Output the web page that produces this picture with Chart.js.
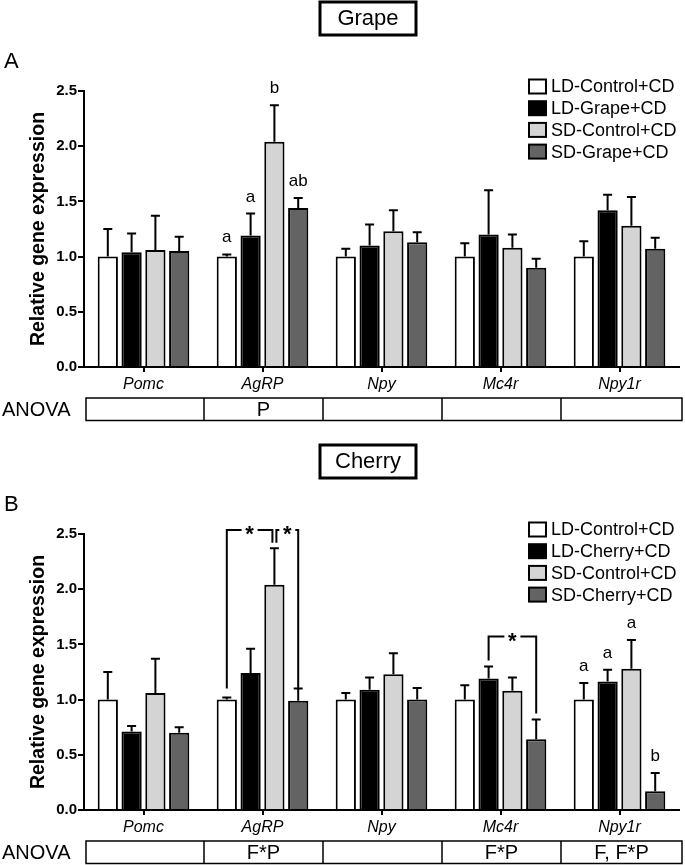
<!DOCTYPE html>
<html>
<head>
<meta charset="utf-8">
<script src="https://cdn.jsdelivr.net/npm/chart.js@4.4.1/dist/chart.umd.min.js"></script>
<style>
  html, body { margin: 0; padding: 0; background: #ffffff; }
  #wrap { position: relative; width: 685px; height: 865px; overflow: hidden; }
  .panel { position: absolute; left: 0; width: 685px; }
  #panelA { top: 0; height: 443px; }
  #panelB { top: 443px; height: 422px; }
</style>
</head>
<body>
<div id="wrap">
  <div class="panel" id="panelA"><canvas id="chartA" width="685" height="443"></canvas></div>
  <div class="panel" id="panelB"><canvas id="chartB" width="685" height="422"></canvas></div>
</div>
<script>
// ---------------- DATA ----------------
const categories = ['Pomc', 'AgRP', 'Npy', 'Mc4r', 'Npy1r'];
const yTickValues = [0, 0.5, 1.0, 1.5, 2.0, 2.5];

// Panel A (Grape)
const grapeLabels = ['LD-Control+CD', 'LD-Grape+CD', 'SD-Control+CD', 'SD-Grape+CD'];
const grapeLDControl = [1.00, 1.00, 1.00, 1.00, 1.00];
const grapeLDGrape   = [1.04, 1.19, 1.10, 1.20, 1.42];
const grapeSDControl = [1.06, 2.04, 1.23, 1.08, 1.28];
const grapeSDGrape   = [1.05, 1.44, 1.13, 0.90, 1.07];
const grapeSemLDControl = [0.25, 0.02, 0.07, 0.12, 0.14];
const grapeSemLDGrape   = [0.17, 0.20, 0.19, 0.40, 0.14];
const grapeSemSDControl = [0.31, 0.33, 0.19, 0.12, 0.26];
const grapeSemSDGrape   = [0.13, 0.09, 0.09, 0.08, 0.10];
// [category index, series index, letter]
const grapeLetters = [[1, 0, 'a'], [1, 1, 'a'], [1, 2, 'b'], [1, 3, 'ab']];
const grapeAnova = ['', 'P', '', '', ''];

// Panel B (Cherry)
const cherryLabels = ['LD-Control+CD', 'LD-Cherry+CD', 'SD-Control+CD', 'SD-Cherry+CD'];
const cherryLDControl = [1.00, 1.00, 1.00, 1.00, 1.00];
const cherryLDCherry  = [0.71, 1.24, 1.09, 1.19, 1.165];
const cherrySDControl = [1.06, 2.04, 1.23, 1.08, 1.28];
const cherrySDCherry  = [0.70, 0.99, 1.00, 0.64, 0.17];
const cherrySemLDControl = [0.25, 0.02, 0.06, 0.13, 0.15];
const cherrySemLDCherry  = [0.05, 0.22, 0.11, 0.11, 0.105];
const cherrySemSDControl = [0.31, 0.33, 0.19, 0.12, 0.26];
const cherrySemSDCherry  = [0.05, 0.11, 0.105, 0.18, 0.165];
const cherryLetters = [[4, 0, 'a'], [4, 1, 'a'], [4, 2, 'a'], [4, 3, 'b']];
// [category, from series, to series, bracket level, left leg end, right leg end]
const cherryBrackets = [
  [1, 0, 2, 2.536, 1.10, 2.42],
  [1, 2, 3, 2.536, 2.42, 1.10],
  [3, 1, 3, 1.572, 1.355, 0.874]
];
const cherryAnova = ['', 'F*P', '', 'F*P', 'F, F*P'];

// ---------------- STYLE ----------------
const FONT = "'Liberation Sans', Arial, Helvetica, sans-serif";
const seriesColors = ['#ffffff', '#000000', '#d4d4d4', '#636363'];

const decorPlugin = {
  id: 'decor',
  afterDatasetsDraw(chart, args, o) {
    const ctx = chart.ctx;
    const yS = chart.scales.y;
    ctx.save();
    ctx.strokeStyle = '#000';
    ctx.lineWidth = 2;
    ctx.lineCap = 'butt';
    chart.data.datasets.forEach((ds, di) => {
      const meta = chart.getDatasetMeta(di);
      meta.data.forEach((bar, i) => {
        const top = yS.getPixelForValue(ds.data[i] + o.sems[di][i]);
        ctx.beginPath();
        ctx.moveTo(bar.x, bar.y);
        ctx.lineTo(bar.x, top);
        ctx.moveTo(bar.x - 4.5, top);
        ctx.lineTo(bar.x + 4.5, top);
        ctx.stroke();
      });
    });
    ctx.restore();
  },
  afterDraw(chart, args, o) {
    const ctx = chart.ctx;
    const ca = chart.chartArea;
    const xS = chart.scales.x, yS = chart.scales.y;
    ctx.save();
    // panel title box
    ctx.strokeStyle = '#000';
    ctx.lineWidth = 3;
    ctx.strokeRect(320, 2, 96, 33);
    ctx.fillStyle = '#000';
    ctx.font = '22px ' + FONT;
    ctx.textAlign = 'center';
    ctx.textBaseline = 'middle';
    ctx.fillText(o.title, 368, 19);
    // panel letter
    ctx.textAlign = 'left';
    ctx.fillText(o.panel, 4, 62);

    // legend
    ctx.font = '18px ' + FONT;
    ctx.lineWidth = 2;
    chart.data.datasets.forEach((ds, i) => {
      const cy = ca.top - 4.5 + i * 21.7;
      const bx = ca.right - 150;
      ctx.fillStyle = ds.backgroundColor;
      ctx.fillRect(bx, cy - 7, 17, 14);
      ctx.strokeRect(bx, cy - 7, 17, 14);
      ctx.fillStyle = '#000';
      ctx.textAlign = 'left';
      ctx.textBaseline = 'middle';
      ctx.fillText(ds.label, bx + 22, cy + 1);
    });

    // significance letters
    ctx.font = '17px ' + FONT;
    ctx.textAlign = 'center';
    ctx.textBaseline = 'alphabetic';
    o.letters.forEach(([c, s, t]) => {
      const bar = chart.getDatasetMeta(s).data[c];
      const v = chart.data.datasets[s].data[c] + o.sems[s][c];
      ctx.fillText(t, bar.x, yS.getPixelForValue(v) - 12);
    });

    // brackets
    const used = {};
    o.brackets.forEach(([c, a, b]) => { used[c + '_' + a + '_s'] = true; used[c + '_' + b + '_e'] = true; });
    o.brackets.forEach(([c, a, b, lvl, la, lb]) => {
      let x1 = chart.getDatasetMeta(a).data[c].x;
      let x2 = chart.getDatasetMeta(b).data[c].x;
      if (used[c + '_' + a + '_e']) x1 += 2;
      if (used[c + '_' + b + '_s']) x2 -= 2;
      const yl = yS.getPixelForValue(lvl);
      const mid = (x1 + x2) / 2;
      const gap = 8;
      ctx.strokeStyle = '#000';
      ctx.lineWidth = 2;
      ctx.beginPath();
      ctx.moveTo(x1, yS.getPixelForValue(la));
      ctx.lineTo(x1, yl);
      ctx.lineTo(mid - gap, yl);
      ctx.moveTo(mid + gap, yl);
      ctx.lineTo(x2, yl);
      ctx.lineTo(x2, yS.getPixelForValue(lb));
      ctx.stroke();
      ctx.font = 'bold 22px ' + FONT;
      ctx.textAlign = 'center';
      ctx.textBaseline = 'middle';
      ctx.fillText('*', mid, yl + 5);
    });

    // ANOVA table
    const ty = ca.bottom + 31, th = 22.5;
    const edges = [ca.left + 2];
    for (let i = 0; i < categories.length - 1; i++) {
      edges.push((xS.getPixelForValue(i) + xS.getPixelForValue(i + 1)) / 2 + 1);
    }
    edges.push(ca.right + 3);
    ctx.lineWidth = 1.5;
    ctx.strokeStyle = '#000';
    ctx.strokeRect(edges[0], ty, edges[edges.length - 1] - edges[0], th);
    ctx.beginPath();
    for (let i = 1; i < edges.length - 1; i++) {
      ctx.moveTo(edges[i], ty);
      ctx.lineTo(edges[i], ty + th);
    }
    ctx.stroke();
    ctx.font = '20px ' + FONT;
    ctx.fillStyle = '#000';
    ctx.textBaseline = 'middle';
    ctx.textAlign = 'left';
    ctx.fillText('ANOVA', 2, ty + th / 2 + 1);
    ctx.textAlign = 'center';
    o.anova.forEach((t, i) => {
      if (t) ctx.fillText(t, (edges[i] + edges[i + 1]) / 2, ty + th / 2 + 1);
    });
    ctx.restore();
  }
};

function makeChart(id, canvasH, labels, series, sems, letters, brackets, anova, title, panel) {
  const datasets = series.map((d, i) => ({
    label: labels[i],
    data: d,
    backgroundColor: seriesColors[i],
    borderColor: '#000',
    borderWidth: 2,
    borderSkipped: 'start',
    categoryPercentage: 0.8,
    barPercentage: 0.85
  }));
  return new Chart(document.getElementById(id), {
    type: 'bar',
    data: { labels: categories, datasets },
    plugins: [decorPlugin],
    options: {
      responsive: false,
      animation: false,
      events: [],
      layout: { padding: { top: 91, right: 6, bottom: canvasH - 367 - 30, left: 0 } },
      plugins: {
        legend: { display: false },
        tooltip: { enabled: false },
        title: { display: false },
        decor: { sems, letters, brackets, anova, title, panel }
      },
      scales: {
        x: {
          offset: true,
          afterFit: s => { s.height = 30; },
          grid: { display: true, drawOnChartArea: false, drawTicks: true, tickLength: 5, offset: false, color: '#000', lineWidth: 2 },
          border: { display: true, color: '#000', width: 2 },
          ticks: { color: '#000', padding: 3, font: { family: FONT, size: 16, style: 'italic' } }
        },
        y: {
          min: 0, max: 2.5,
          afterFit: s => { s.width = 84; },
          afterBuildTicks: s => { s.ticks = yTickValues.map(v => ({ value: v })); },
          grid: { display: true, drawOnChartArea: false, drawTicks: true, tickLength: 6, color: '#000', lineWidth: 2 },
          border: { display: true, color: '#000', width: 2 },
          ticks: {
            color: '#000', padding: 1,
            font: { family: FONT, size: 15, weight: 'bold' },
            callback: v => Number(v).toFixed(1)
          },
          title: {
            display: true, text: 'Relative gene expression', color: '#000',
            font: { family: FONT, size: 19.5, weight: 'bold' },
            padding: { top: 27, bottom: 0 }
          }
        }
      }
    }
  });
}

makeChart('chartA', 443, grapeLabels,
  [grapeLDControl, grapeLDGrape, grapeSDControl, grapeSDGrape],
  [grapeSemLDControl, grapeSemLDGrape, grapeSemSDControl, grapeSemSDGrape],
  grapeLetters, [], grapeAnova, 'Grape', 'A');

makeChart('chartB', 422, cherryLabels,
  [cherryLDControl, cherryLDCherry, cherrySDControl, cherrySDCherry],
  [cherrySemLDControl, cherrySemLDCherry, cherrySemSDControl, cherrySemSDCherry],
  cherryLetters, cherryBrackets, cherryAnova, 'Cherry', 'B');
</script>
</body>
</html>
